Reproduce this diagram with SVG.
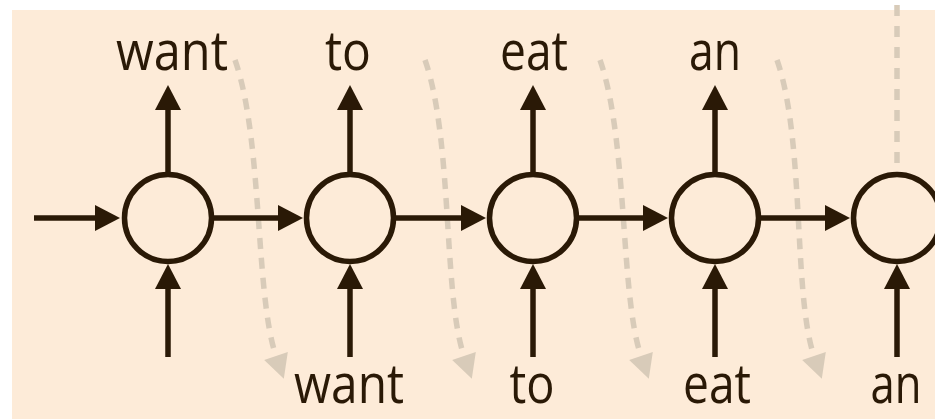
<svg xmlns="http://www.w3.org/2000/svg" width="935" height="419" viewBox="0 0 935 419">
<style>
.node circle{fill:none;stroke:#2a1906;stroke-width:5.5}
.arr{stroke:#2a1906;stroke-width:5.5;fill:none;marker-end:url(#ah)}
.dash{stroke:#d8cbb9;stroke-width:5.5;fill:none;stroke-dasharray:11 9}
.lbl{font-family:"Open Sans","Noto Sans",sans-serif;font-size:54px;fill:#2a1906;text-anchor:middle}
</style>
<defs>
<marker id="ah" markerUnits="userSpaceOnUse" markerWidth="26" markerHeight="28" refX="0" refY="13" orient="auto" overflow="visible">
<path d="M0,0 L25,13 L0,26 Z" fill="#2a1906"/>
</marker>
<marker id="dh" markerUnits="userSpaceOnUse" markerWidth="26" markerHeight="26" refX="0" refY="12.5" orient="auto" overflow="visible">
<path d="M0,0 L24,12.5 L0,25 Z" fill="#d8cbb9"/>
</marker>
</defs>
<rect x="0" y="0" width="935" height="419" fill="#ffffff"/>
<rect x="12" y="10" width="923" height="409" fill="#fdebd8"/>
<g id="dashed">
<path class="dash" marker-end="url(#dh)" d="M235,60 C263,140 255,295 276,356"/>
<path class="dash" marker-end="url(#dh)" d="M425,60 C453,140 443,295 464,356"/>
<path class="dash" marker-end="url(#dh)" d="M600,60 C628,140 620,295 641,356"/>
<path class="dash" marker-end="url(#dh)" d="M777,60 C805,140 793,295 814,356"/>
<line class="dash" x1="897" y1="5" x2="897" y2="166" style="stroke-dasharray:11 10"/>
</g>
<g id="connectors">
<line class="arr" x1="34" y1="218" x2="95" y2="218"/>
<line class="arr" x1="214" y1="218" x2="278" y2="218"/>
<line class="arr" x1="396" y1="218" x2="461" y2="218"/>
<line class="arr" x1="579" y1="218" x2="643" y2="218"/>
<line class="arr" x1="761" y1="218" x2="825" y2="218"/>
<line class="arr" x1="168" y1="174" x2="168" y2="110"/>
<line class="arr" x1="350" y1="174" x2="350" y2="110"/>
<line class="arr" x1="533" y1="174" x2="533" y2="110"/>
<line class="arr" x1="715" y1="174" x2="715" y2="110"/>
<line class="arr" x1="168" y1="357" x2="168" y2="289"/>
<line class="arr" x1="350" y1="357" x2="350" y2="289"/>
<line class="arr" x1="533" y1="357" x2="533" y2="289"/>
<line class="arr" x1="715" y1="357" x2="715" y2="289"/>
<line class="arr" x1="897" y1="357" x2="897" y2="289"/>
</g>
<g id="node1" class="node"><circle cx="168" cy="218" r="43.5"/></g>
<g id="node2" class="node"><circle cx="350" cy="218" r="43.5"/></g>
<g id="node3" class="node"><circle cx="533" cy="218" r="43.5"/></g>
<g id="node4" class="node"><circle cx="715" cy="218" r="43.5"/></g>
<g id="node5" class="node"><circle cx="897" cy="218" r="43.5"/></g>
<g id="labels">
<text class="lbl" x="172" y="70" textLength="112" lengthAdjust="spacingAndGlyphs">want</text>
<text class="lbl" x="348" y="70" textLength="46" lengthAdjust="spacingAndGlyphs">to</text>
<text class="lbl" x="534" y="70" textLength="68" lengthAdjust="spacingAndGlyphs">eat</text>
<text class="lbl" x="715" y="70" textLength="52" lengthAdjust="spacingAndGlyphs">an</text>
<text class="lbl" x="349" y="403" textLength="110" lengthAdjust="spacingAndGlyphs">want</text>
<text class="lbl" x="532" y="403" textLength="45" lengthAdjust="spacingAndGlyphs">to</text>
<text class="lbl" x="717" y="403" textLength="68" lengthAdjust="spacingAndGlyphs">eat</text>
<text class="lbl" x="896" y="403" textLength="51" lengthAdjust="spacingAndGlyphs">an</text>
</g>
</svg>
